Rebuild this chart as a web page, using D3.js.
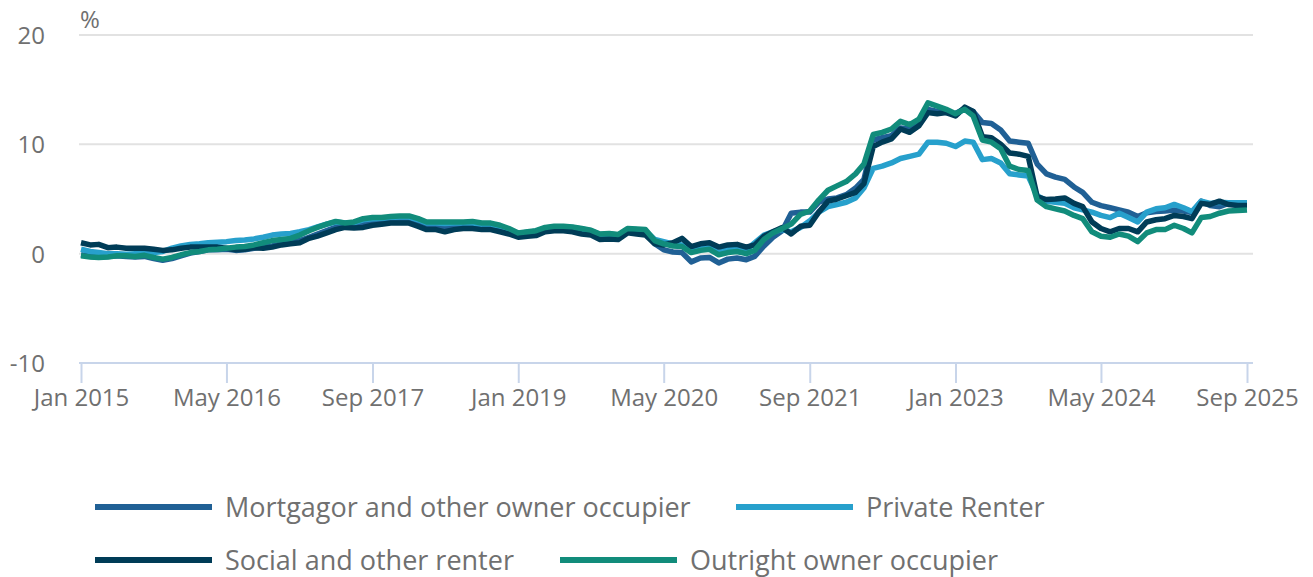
<!DOCTYPE html>
<html>
<head>
<meta charset="utf-8">
<script src="https://cdn.jsdelivr.net/npm/d3@7"></script>
<style>
  body { margin: 0; background: #fff; }
  svg text { font-family: "Open Sans", sans-serif; fill: #707070; }
</style>
</head>
<body>
<div id="chart"></div>
<script>
// ---- data (monthly, Jan 2015 .. Sep 2025) ----
const startMonth = "Jan 2015";
const endMonth = "Sep 2025";
const tickLabels = ["Jan 2015", "May 2016", "Sep 2017", "Jan 2019", "May 2020",
                    "Sep 2021", "Jan 2023", "May 2024", "Sep 2025"];
const yTicks = [-10, 0, 10, 20];

const seriesNames = ["Mortgagor and other owner occupier", "Private Renter",
                     "Social and other renter", "Outright owner occupier"];
const seriesColors = ["#206095", "#27a0cc", "#003c57", "#118c7b"];

const mortgagor = [
  -0.1, -0.25, -0.3, -0.25, -0.2, -0.25, -0.3, -0.25, -0.45, -0.6, -0.45, -0.2,
  0.05, 0.2, 0.35, 0.35, 0.4, 0.3, 0.35, 0.5, 0.6, 0.7, 0.9, 1.0,
  1.2, 1.5, 1.8, 2.1, 2.4, 2.5, 2.5, 2.7, 2.85, 2.9, 3.0, 3.0,
  3.0, 2.7, 2.4, 2.4, 2.3, 2.4, 2.5, 2.5, 2.4, 2.35, 2.2, 2.0,
  1.7, 1.8, 1.9, 2.2, 2.3, 2.3, 2.2, 2.0, 1.9, 1.5, 1.6, 1.5,
  2.1, 2.0, 1.9, 0.9, 0.35, 0.15, 0.1, -0.75, -0.4, -0.35, -0.85, -0.5,
  -0.4, -0.55, -0.25, 0.7, 1.5, 2.1, 3.7, 3.8, 3.8, 4.7, 5.0, 5.1,
  5.4, 6.0, 6.8, 10.4, 10.6, 10.8, 11.5, 11.4, 11.9, 13.2, 13.0, 12.9,
  12.8, 13.3, 13.0, 12.0, 11.9, 11.3, 10.3, 10.2, 10.1, 8.2, 7.3, 7.0,
  6.8, 6.1, 5.6, 4.7, 4.4, 4.2, 4.0, 3.8, 3.4, 3.75, 3.85, 3.9,
  4.0, 3.9, 3.75, 4.8, 4.4, 4.3, 4.6, 4.65, 4.65
];
const privateRenter = [
  0.4, 0.2, 0.1, 0.0, 0.0, -0.05, 0.0, 0.05, 0.1, 0.2, 0.5, 0.7,
  0.85, 0.9, 1.0, 1.05, 1.1, 1.2, 1.25, 1.35, 1.5, 1.7, 1.8, 1.85,
  2.0, 2.2, 2.45, 2.7, 2.9, 2.8, 2.85, 3.1, 3.2, 3.25, 3.3, 3.35,
  3.35, 3.1, 2.8, 2.8, 2.75, 2.8, 2.8, 2.8, 2.7, 2.65, 2.5, 2.2,
  1.85, 1.95, 2.05, 2.35, 2.45, 2.45, 2.4, 2.25, 2.1, 1.75, 1.8, 1.7,
  2.2, 2.2, 2.1, 1.3, 1.1, 0.9, 0.8, 0.35, 0.5, 0.55, 0.1, 0.4,
  0.55, 0.35, 1.0, 1.7, 2.0, 2.2, 2.0, 2.4, 3.0, 3.8, 4.3, 4.5,
  4.7, 5.1, 6.0, 7.8, 8.0, 8.3, 8.7, 8.9, 9.1, 10.2, 10.2, 10.1,
  9.8, 10.3, 10.2, 8.6, 8.7, 8.3, 7.3, 7.2, 7.1, 5.3, 4.8, 4.7,
  4.6, 4.2, 4.0, 3.8, 3.5, 3.3, 3.7, 3.3, 2.9, 3.8, 4.1, 4.2,
  4.5, 4.2, 3.85, 4.8, 4.6, 4.7, 4.65, 4.65, 4.65
];
const socialRenter = [
  1.0, 0.8, 0.85, 0.55, 0.6, 0.5, 0.5, 0.5, 0.4, 0.3, 0.35, 0.5,
  0.6, 0.6, 0.6, 0.6, 0.5, 0.35, 0.4, 0.55, 0.5, 0.6, 0.8, 0.9,
  1.0, 1.4, 1.6, 1.9, 2.2, 2.4, 2.35, 2.4, 2.6, 2.7, 2.8, 2.8,
  2.8, 2.5, 2.2, 2.2, 2.0, 2.2, 2.3, 2.3, 2.2, 2.2, 2.0, 1.8,
  1.5, 1.6, 1.65, 2.0, 2.1, 2.1, 2.0, 1.8, 1.7, 1.3, 1.35, 1.3,
  1.9, 1.8, 1.7, 0.9, 0.8, 1.0, 1.4, 0.65, 0.9, 1.0, 0.6, 0.8,
  0.85, 0.6, 0.8, 1.6, 2.0, 2.4, 1.8, 2.5, 2.6, 3.8, 4.8, 5.0,
  5.3, 5.6, 6.4, 9.8, 10.2, 10.5, 11.4, 11.1, 11.7, 12.9, 12.8, 12.9,
  12.6, 13.4, 13.0, 10.7, 10.6, 10.0, 9.2, 9.1, 8.9, 5.2, 4.95, 5.0,
  5.1, 4.6, 4.3, 2.9, 2.3, 2.0, 2.3, 2.3, 2.0, 2.9, 3.1, 3.2,
  3.5, 3.4, 3.2, 4.6, 4.5, 4.8, 4.5, 4.4, 4.4
];
const outrightOwner = [
  -0.2, -0.3, -0.35, -0.3, -0.2, -0.2, -0.25, -0.15, -0.35, -0.5, -0.35, -0.1,
  0.1, 0.2, 0.35, 0.4, 0.5, 0.6, 0.65, 0.8, 1.0, 1.2, 1.3, 1.4,
  1.7, 2.1, 2.4, 2.7, 2.95, 2.8, 2.9, 3.2, 3.3, 3.3, 3.4, 3.45,
  3.45, 3.2, 2.9, 2.9, 2.9, 2.9, 2.9, 2.95, 2.8, 2.8, 2.6, 2.3,
  1.9, 2.0, 2.1, 2.4, 2.5, 2.5, 2.45, 2.3, 2.15, 1.8, 1.85, 1.75,
  2.3, 2.25, 2.2, 1.2, 0.9, 0.7, 0.65, 0.1, 0.3, 0.4, -0.1, 0.1,
  0.2, 0.0, 0.3, 1.3, 1.9, 2.3, 2.7, 3.6, 3.9, 4.9, 5.8, 6.2,
  6.6, 7.3, 8.2, 10.9, 11.1, 11.4, 12.1, 11.8, 12.3, 13.8, 13.5, 13.2,
  12.8, 13.2, 12.6, 10.4, 10.2, 9.6, 8.0, 7.7, 7.6, 4.9, 4.3, 4.1,
  3.9, 3.5, 3.2, 2.0, 1.6, 1.5, 1.8, 1.6, 1.1, 1.9, 2.2, 2.2,
  2.6, 2.3, 1.9, 3.3, 3.4, 3.7, 3.9, 3.95, 4.0
];
const seriesValues = [mortgagor, privateRenter, socialRenter, outrightOwner];

// ---- layout ----
const width = 1313, height = 577;
const parseMonth = d3.timeParse("%b %Y");
const months = d3.timeMonth.range(parseMonth(startMonth), d3.timeMonth.offset(parseMonth(endMonth), 1));

const svg = d3.select("#chart").append("svg")
  .attr("width", width)
  .attr("height", height);

const x = d3.scaleTime()
  .domain([months[0], months[months.length - 1]])
  .range([81, 1247]);

const y = d3.scaleLinear()
  .domain([-10, 20])
  .range([363, 35]);

// gridlines
svg.append("g")
  .selectAll("line")
  .data(yTicks.filter(d => d !== -10))
  .join("line")
  .attr("x1", 79)
  .attr("x2", 1253)
  .attr("y1", d => y(d))
  .attr("y2", d => y(d))
  .attr("stroke", "#e2e2e2")
  .attr("stroke-width", 2);

// y tick labels
svg.append("g")
  .selectAll("text")
  .data(yTicks)
  .join("text")
  .attr("x", 45)
  .attr("y", d => y(d) + 9)
  .attr("text-anchor", "end")
  .attr("font-size", 24)
  .text(d => d);

svg.append("text")
  .attr("x", 80)
  .attr("y", 28)
  .attr("font-size", 24)
  .text("%");

// x axis
const xAxis = d3.axisBottom(x)
  .tickValues(tickLabels.map(parseMonth))
  .tickFormat(d3.timeFormat("%b %Y"))
  .tickSize(20)
  .tickSizeOuter(0)
  .tickPadding(6);

const gx = svg.append("g")
  .attr("transform", `translate(0, ${y(-10)})`)
  .call(xAxis);
gx.select(".domain")
  .attr("d", `M79,0H1253`)
  .attr("stroke", "#c8d5ea")
  .attr("stroke-width", 2);
gx.selectAll(".tick line")
  .attr("stroke", "#c8d5ea")
  .attr("stroke-width", 2);
gx.selectAll(".tick text")
  .attr("font-size", 24)
  .attr("fill", "#707070")
  .attr("font-family", "Open Sans, sans-serif");

// lines
const line = d3.line()
  .x((d, i) => x(months[i]))
  .y(d => y(d));

svg.append("g")
  .selectAll("path")
  .data(seriesValues)
  .join("path")
  .attr("d", d => line(d))
  .attr("fill", "none")
  .attr("stroke", (d, i) => seriesColors[i])
  .attr("stroke-width", 5.5)
  .attr("stroke-linejoin", "round");

// legend
const legendPos = [[95, 507], [736, 507], [95, 560], [560, 560]];
const legend = svg.append("g")
  .selectAll("g")
  .data(seriesNames)
  .join("g")
  .attr("transform", (d, i) => `translate(${legendPos[i][0]}, ${legendPos[i][1]})`);

legend.append("line")
  .attr("x1", 0)
  .attr("x2", 117)
  .attr("stroke", (d, i) => seriesColors[i])
  .attr("stroke-width", 6);

legend.append("text")
  .attr("x", 130)
  .attr("y", 10)
  .attr("font-size", 27)
  .text(d => d);
</script>
</body>
</html>
